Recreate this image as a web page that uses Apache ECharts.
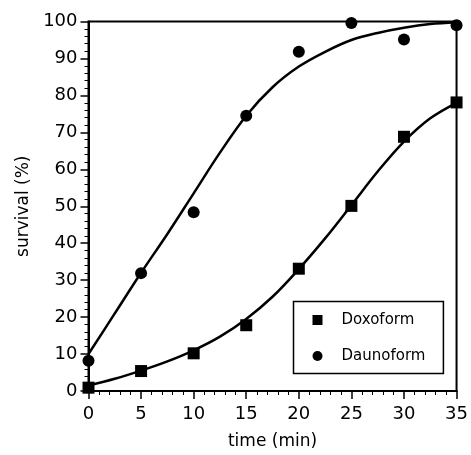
<!DOCTYPE html>
<html>
<head>
<meta charset="utf-8">
<script src="https://cdn.jsdelivr.net/npm/echarts@6/dist/echarts.min.js"></script>
<style>
  html, body { margin: 0; padding: 0; background: #fff; }
  #chart { width: 471px; height: 455px; }
</style>
</head>
<body>
<div id="chart"></div>
<script>
// measured points
const timeX = [0, 5, 10, 15, 20, 25, 30, 35];
const doxoform = [0.9, 5.4, 10.2, 17.8, 33.1, 50.1, 68.8, 78.1];
const daunoform = [8.2, 31.9, 48.4, 74.5, 91.8, 99.6, 95.1, 99.0];

// fitted curves, every 2.5 min
const curveX = [0, 2.5, 5, 7.5, 10, 12.5, 15, 17.5, 20, 22.5, 25, 27.5, 30, 32.5, 35];
const doxoCurve = [1.5, 3.3, 5.5, 8.0, 11.0, 14.7, 19.5, 25.5, 33, 41.3, 50.3, 59.4, 67.5, 73.8, 78];
const daunoCurve = [10, 21, 32, 42.5, 53.5, 64.5, 74.5, 82.2, 87.8, 91.8, 95, 96.9, 98.3, 99.3, 99.8];

const pair = (xs, ys) => xs.map((x, i) => [x, ys[i]]);
const font = 'DejaVu Sans';

const chart = echarts.init(document.getElementById('chart'));
chart.setOption({
  animation: false,
  grid: {
    left: 88.5, right: 9.5, top: 21.5, bottom: 61,
    show: true, borderColor: '#000', borderWidth: 2
  },
  legend: {
    orient: 'vertical',
    left: 293.5, top: 301.5,
    padding: [11, 18, 10, 19],
    itemWidth: 10, itemHeight: 10, itemGap: 21,
    borderColor: '#000', borderWidth: 1.5,
    backgroundColor: '#fff',
    textStyle: { fontFamily: font, fontSize: 15, color: '#000', padding: [0, 0, 0, 14] },
    data: [
      { name: 'Doxoform', icon: 'rect', itemStyle: { opacity: 1 } },
      { name: 'Daunoform', icon: 'circle', itemStyle: { opacity: 1 } }
    ]
  },
  xAxis: {
    type: 'value', min: 0, max: 35, interval: 5,
    name: 'time (min)', nameLocation: 'middle', nameGap: 42,
    nameTextStyle: { fontFamily: font, fontSize: 17, color: '#000' },
    axisLine: { lineStyle: { color: '#000', width: 2 } },
    axisTick: { length: 8, lineStyle: { color: '#000', width: 1.5 } },
    minorTick: { show: true, splitNumber: 5, length: 4, lineStyle: { color: '#000', width: 1 } },
    axisLabel: { fontFamily: font, fontSize: 18, color: '#000', margin: 14 },
    splitLine: { show: false }
  },
  yAxis: {
    type: 'value', min: 0, max: 100, interval: 10,
    name: 'survival (%)', nameLocation: 'middle', nameGap: 51,
    nameTextStyle: { fontFamily: font, fontSize: 17, color: '#000' },
    axisLine: { lineStyle: { color: '#000', width: 2 } },
    axisTick: { length: 8, lineStyle: { color: '#000', width: 1.5 } },
    minorTick: { show: true, splitNumber: 5, length: 4, lineStyle: { color: '#000', width: 1 } },
    axisLabel: { fontFamily: font, fontSize: 18, color: '#000', margin: 11 },
    splitLine: { show: false }
  },
  series: [
    {
      name: 'Doxoform fit', type: 'line', smooth: 0.35, showSymbol: false, clip: false,
      lineStyle: { color: '#000', width: 2.5 }, data: pair(curveX, doxoCurve)
    },
    {
      name: 'Daunoform fit', type: 'line', smooth: 0.35, showSymbol: false, clip: false,
      lineStyle: { color: '#000', width: 2.5 }, data: pair(curveX, daunoCurve)
    },
    {
      name: 'Doxoform', type: 'scatter', symbol: 'rect', symbolSize: 12, clip: false,
      itemStyle: { color: '#000', opacity: 1 }, data: pair(timeX, doxoform)
    },
    {
      name: 'Daunoform', type: 'scatter', symbol: 'circle', symbolSize: 12, clip: false,
      itemStyle: { color: '#000', opacity: 1 }, data: pair(timeX, daunoform)
    }
  ]
});
</script>
</body>
</html>
